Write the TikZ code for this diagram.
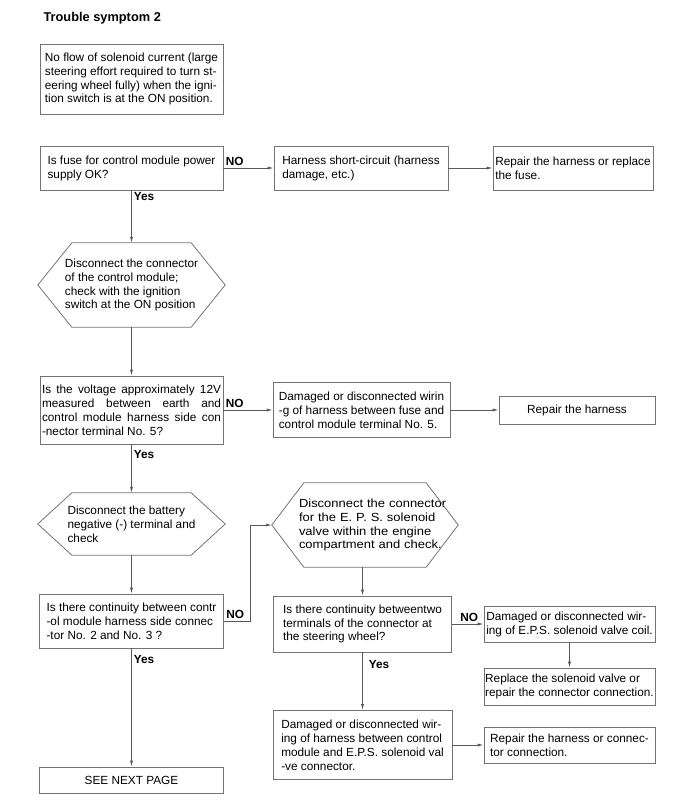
\documentclass[tikz,border=0pt]{standalone}
\usepackage{fontspec}
\setmainfont{Liberation Sans}
\newfontfamily\widefont[FakeStretch=1.1]{Liberation Sans}
\usepackage{tikz}
\usetikzlibrary{arrows.meta}

\begin{document}
\begin{tikzpicture}[x=1pt, y=-1pt, >={Latex[length=6pt,width=3pt]}, every node/.style={font=\fontsize{11.8}{13.9}\selectfont}, box/.style={draw=black!55, line width=.8pt, align=left, inner xsep=1pt, inner ysep=0pt, minimum width=#1}, hexa/.style={align=left, inner sep=0pt, minimum width=#1}, lbl/.style={font=\fontsize{11.8}{13.9}\selectfont\bfseries, inner sep=2pt}, link/.style={draw=black!65, line width=.7pt}]
\useasboundingbox (0,0) rectangle (700,808);
\node[anchor=west, font=\fontsize{12.8}{15}\selectfont\bfseries] (title) at (40,18) {Trouble symptom 2};
\node[box=183pt, minimum height=70pt] (sym) at (131.5,79) {No flow of solenoid current (large\\steering effort required to turn st-\\eering wheel fully) when the igni-\\tion switch is at the ON position.};
\node[box=183pt, minimum height=44pt] (fuse) at (131.5,168) {Is fuse for control module power\\supply OK?};
\node[box=174pt, minimum height=44pt] (short) at (361,168) {Harness short-circuit (harness\\damage, etc.)};
\node[box=160pt, minimum height=44pt] (repfuse) at (573,168) {Repair the harness or replace\\the fuse.};
\node[hexa=187pt, minimum height=84pt] (dis1) at (131.5,285) {Disconnect the connector\\of the control module;\\check with the ignition\\switch at the ON position};
\node[box=183pt, minimum height=68pt] (volt) at (131.5,410) {\makebox[179pt][s]{Is the voltage approximately 12V}\\\makebox[179pt][s]{measured between earth and}\\\makebox[179pt][s]{control module harness side con}\\-nector terminal No. 5?};
\node[box=177pt, minimum height=55pt] (wire1) at (361.5,410) {Damaged or disconnected wirin\\-g of harness between fuse and\\control module terminal No. 5.};
\node[box=156pt, align=center, minimum height=28pt] (rephar) at (577,410) {Repair the harness};
\node[hexa=187pt, minimum height=62pt] (dis2) at (131.5,524) {Disconnect the battery\\negative (-) terminal and\\check};
\node[hexa=186pt, minimum height=84pt, text width=164pt, align=right, font={\widefont\fontsize{11.8}{13.9}\selectfont}] (dis3) at (365,525) {\makebox[148pt][s]{Disconnect the connector}\\\makebox[148pt][s]{for the E. P. S. solenoid}\\\makebox[148pt][s]{valve within the engine}\\\makebox[148pt][s]{compartment and check.}};
\node[box=184pt, minimum height=54pt] (cont1) at (131.5,621) {Is there continuity between contr\\-ol module harness side connec\\-tor No. 2 and No. 3 ?};
\node[box=178pt, minimum height=56pt] (cont2) at (362.5,624) {Is there continuity betweentwo\\terminals of the connector at\\the steering wheel?};
\node[box=171pt, minimum height=36pt] (wire2) at (569.5,624) {Damaged or disconnected wir-\\ing of E.P.S. solenoid valve coil.};
\node[box=171pt, minimum height=37pt] (repsol) at (569.5,686.5) {Replace the solenoid valve or\\repair the connector connection.};
\node[box=179pt, minimum height=69pt] (wire3) at (362.5,745) {Damaged or disconnected wir-\\ ing of harness between control\\ module and E.P.S. solenoid val\\ -ve connector.};
\node[box=171pt, minimum height=36pt] (rephc) at (569.5,745) {Repair the harness or connec-\\tor connection.};
\node[box=184pt, align=center, minimum height=26pt] (next) at (131.5,780) {SEE NEXT PAGE};
% hexagon outlines
\foreach \h/\d in {dis1/34, dis2/34, dis3/32}
  \draw[draw=black!55, line width=.8pt] (\h.west) -- ([xshift=\d pt]\h.north west) -- ([xshift=-\d pt]\h.north east) -- (\h.east) -- ([xshift=-\d pt]\h.south east) -- ([xshift=\d pt]\h.south west) -- cycle;
\draw[link,->] (fuse) -- node[lbl, pos=0, anchor=south west]{NO} (short);
\draw[link,->] (short) -- (repfuse);
\draw[link,->] (fuse) -- node[lbl, pos=0, anchor=north west]{Yes} (dis1);
\draw[link,->] (dis1) -- (volt);
\draw[link,->] (volt) -- node[lbl, pos=0, anchor=south west]{NO} (wire1);
\draw[link,->] (wire1) -- (rephar);
\draw[link,->] (volt) -- node[lbl, pos=0, anchor=north west, yshift=-4pt]{Yes} (dis2);
\draw[link,->] (dis2) -- (cont1);
\draw[link,->] (cont1.east) -- node[lbl, pos=0, anchor=south west]{NO} ++(26,0) |- (dis3.west);
\draw[link,->] (cont1) -- node[lbl, pos=0, anchor=north west, yshift=-5pt]{Yes} (next);
\draw[link,->] (dis3.south -| cont2.north) -- (cont2.north);
\draw[link,->] (cont2) -- node[lbl, pos=0, anchor=south west, xshift=6pt]{NO} (wire2);
\draw[link,->] (wire2) -- (repsol);
\draw[link,->] (cont2) -- node[lbl, pos=0, anchor=north west, xshift=4pt, yshift=-6pt]{Yes} (wire3);
\draw[link,->] (wire3) -- (rephc);
\end{tikzpicture}
\end{document}
